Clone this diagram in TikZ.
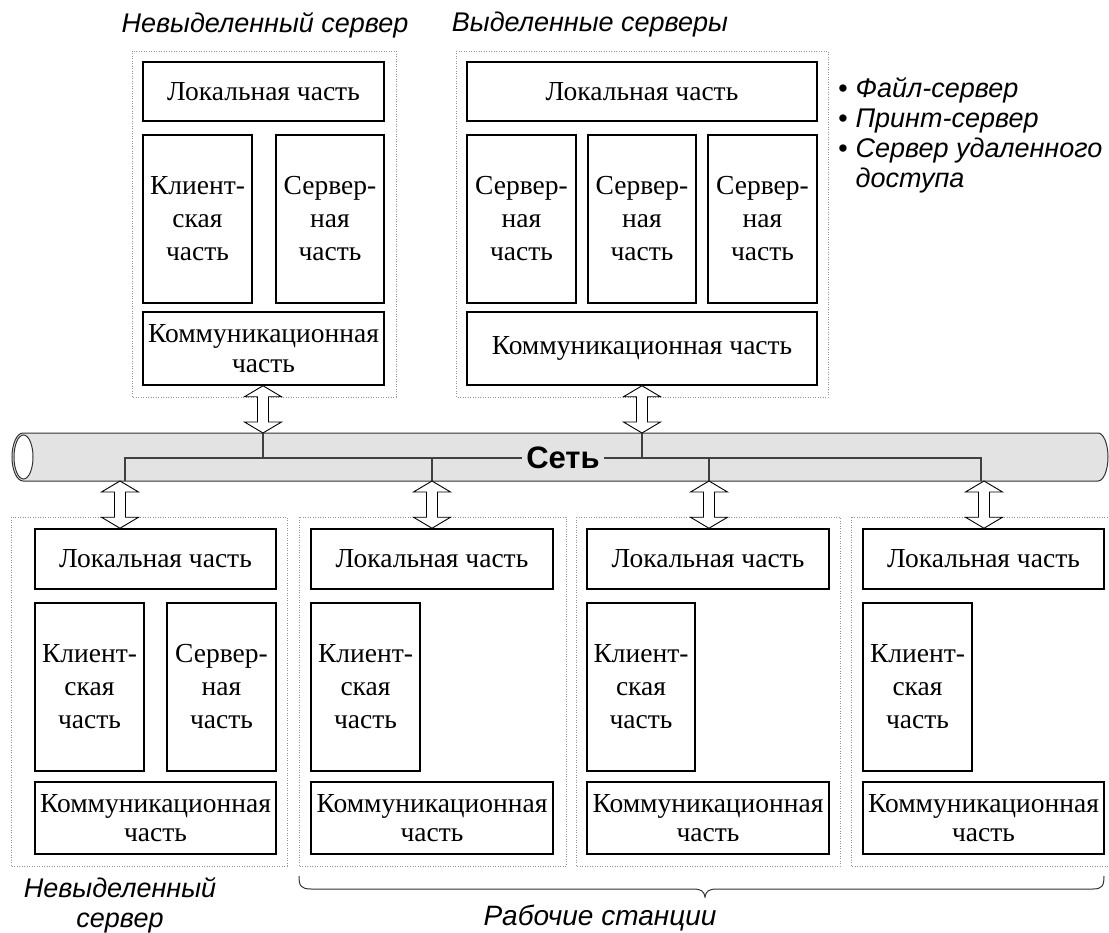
\documentclass[tikz,border=0pt]{standalone}
\usepackage{fontspec}
\setmainfont{Liberation Serif}
\setsansfont{Liberation Sans}
\usetikzlibrary{calc}

\newcommand\partfont{\fontsize{27.5}{33}\selectfont}
\newcommand\commfont{\fontsize{27.5}{29.5}\selectfont}
\newcommand\capfont{\sffamily\itshape\fontsize{27}{30}\selectfont}
% white two-headed block arrow between two points on one vertical
\newcommand\duplexarrow[2]{%
  \draw[duplex] let \p1=(#1), \p2=(#2) in
    (\x1,\y1) -- ++(18.5pt,-11pt) -- ++(-13pt,0pt) -- (\x1+5.5pt,\y2+11pt)
    -- ++(13pt,0pt) -- (\x1,\y2) -- ++(-18.5pt,11pt) -- ++(13pt,0pt)
    -- (\x1-5.5pt,\y1-11pt) -- ++(-13pt,0pt) -- cycle;}

\begin{document}
\begin{tikzpicture}[x=1pt,y=-1pt,
  part/.style={draw, line width=1.5pt, fill=white, inner sep=0pt, align=center, font=\partfont},
  wide/.style={part, minimum width=241pt},
  tall/.style={part, minimum width=109pt, minimum height=168pt},
  comm/.style={part, font=\commfont},
  group/.style={draw=gray!85, line width=0.8pt, dash pattern=on 0.8pt off 1.7pt},
  cable/.style={draw=black!80, fill=gray!22, line width=1pt},
  bus/.style={draw=black!75, line width=1.2pt},
  duplex/.style={draw=black, fill=white, line width=0.9pt, line join=miter},
  caption/.style={font=\capfont, inner sep=0pt, align=center},
  brace/.style={draw=black!80, line width=1pt}]

\clip (0,0) rectangle (1109,933);

% ---- network cable ----
\draw[cable] (23,433) -- (1098,433) arc[start angle=-90, end angle=90, x radius=10, y radius=24]
  -- (23,481) arc[start angle=90, end angle=270, x radius=11, y radius=24] -- cycle;
\draw[cable, fill=white] (23.5,457) ellipse[x radius=9.5, y radius=22];

\coordinate (cabTop) at (0,433);
\coordinate (cabBot) at (0,481);
\coordinate (tapA) at (263,458);
\coordinate (tapB) at (642,458);
\coordinate (tap1) at (125,458);
\coordinate (tap2) at (432,458);
\coordinate (tap3) at (709,458);
\coordinate (tap4) at (981,458);
\coordinate (arr1) at (120,458);
\coordinate (arr4) at (984,458);

\draw[bus] (tap1 |- cabBot) -- (tap1) -- (tap4) -- (tap4 |- cabBot);
\draw[bus] (tap2) -- (tap2 |- cabBot);
\draw[bus] (tap3) -- (tap3 |- cabBot);
\draw[bus] (tapA |- cabTop) -- (tapA);
\draw[bus] (tapB |- cabTop) -- (tapB);
\node[font=\sffamily\bfseries\fontsize{31}{36}\selectfont, fill=gray!22, inner xsep=4pt, inner ysep=1pt] (net) at (563,458) {Сеть};

% ---- non-dedicated server (top) ----
\draw[group] (132,51) rectangle (396,397);
\node[wide, minimum height=59pt] (locL) at (263.5,91.5) {Локальная часть};
\node[tall] (cliL) at (197.5,219) {Клиент-\\ская\\часть};
\node[tall, minimum width=108pt] (srvL) at (330,219) {Сервер-\\ная\\часть};
\node[comm, minimum width=241pt, minimum height=73pt] (comL) at (263.5,348.5) {Коммуникационная\\часть};

% ---- dedicated servers ----
\draw[group] (456,51) rectangle (828,397);
\node[part, minimum width=350pt, minimum height=59pt] (locR) at (642,91.5) {Локальная часть};
\node[tall] (srvR1) at (521.5,219) {Сервер-\\ная\\часть};
\node[tall, minimum width=108pt] (srvR2) at (642,219) {Сервер-\\ная\\часть};
\node[tall] (srvR3) at (762.5,219) {Сервер-\\ная\\часть};
\node[comm, minimum width=350pt, minimum height=73pt] (comR) at (642,348.5) {Коммуникационная часть};

% ---- lower row: non-dedicated server and workstations ----
\draw[group] (11,517) rectangle (287,866);
\node[wide, minimum height=60pt] (loc1) at (155.5,559) {Локальная часть};
\node[tall] (cli1) at (89.5,687) {Клиент-\\ская\\часть};
\node[tall] (srv1) at (221.5,687) {Сервер-\\ная\\часть};
\node[comm, minimum width=241pt, minimum height=72pt] (com1) at (155.5,818) {Коммуникационная\\часть};

\draw[group] (299,517) rectangle (566,866);
\node[wide, minimum width=242pt, minimum height=60pt] (loc2) at (432,559) {Локальная часть};
\node[tall] (cli2) at (365.5,687) {Клиент-\\ская\\часть};
\node[comm, minimum width=242pt, minimum height=72pt] (com2) at (432,818) {Коммуникационная\\часть};

\draw[group] (576,517) rectangle (840,866);
\node[wide, minimum width=242pt, minimum height=60pt] (loc3) at (708,559) {Локальная часть};
\node[tall, minimum width=108pt] (cli3) at (641,687) {Клиент-\\ская\\часть};
\node[comm, minimum width=242pt, minimum height=72pt] (com3) at (708,818) {Коммуникационная\\часть};

\draw[group] (851,517) rectangle (1114,866);
\node[wide, minimum height=60pt] (loc4) at (983.5,559) {Локальная часть};
\node[tall] (cli4) at (917.5,687) {Клиент-\\ская\\часть};
\node[comm, minimum width=241pt, minimum height=72pt] (com4) at (983.5,818) {Коммуникационная\\часть};

% ---- links between cable and machines ----
\duplexarrow{tapA |- comL.south}{tapA |- cabTop}
\duplexarrow{tapB |- comR.south}{tapB |- cabTop}
\duplexarrow{arr1 |- cabBot}{arr1 |- loc1.north}
\duplexarrow{tap2 |- cabBot}{tap2 |- loc2.north}
\duplexarrow{tap3 |- cabBot}{tap3 |- loc3.north}
\duplexarrow{arr4 |- cabBot}{arr4 |- loc4.north}

% ---- captions ----
\node[caption] (capNonDed) at (265,25) {Невыделенный сервер};
\node[caption] (capDed) at (590,25) {Выделенные серверы};
\node[caption, align=left, anchor=north west] (roles) at (838,77)
  {\textbullet\hspace{8pt}Файл-сервер\\
   \textbullet\hspace{8pt}Принт-сервер\\
   \textbullet\hspace{8pt}Сервер удаленного\\
   \hphantom{\textbullet\hspace{8pt}}доступа};
\node[caption] (capLow) at (120,905) {Невыделенный\\сервер};
\node[caption, font=\sffamily\itshape\fontsize{28}{30}\selectfont] (capWork) at (600,918) {Рабочие станции};

% brace under the workstations
\coordinate (brL) at (299,876);
\coordinate (brM) at (705,897);
\coordinate (brR) at (1104,876);
\draw[brace] (brL) .. controls (299,886) and (301,889) .. (311,889) -- (693,889)
  .. controls (701,889) and (704,891) .. (brM)
  .. controls (706,891) and (709,889) .. (717,889) -- (1093,889)
  .. controls (1102,889) and (1104,886) .. (brR);
\end{tikzpicture}
\end{document}
